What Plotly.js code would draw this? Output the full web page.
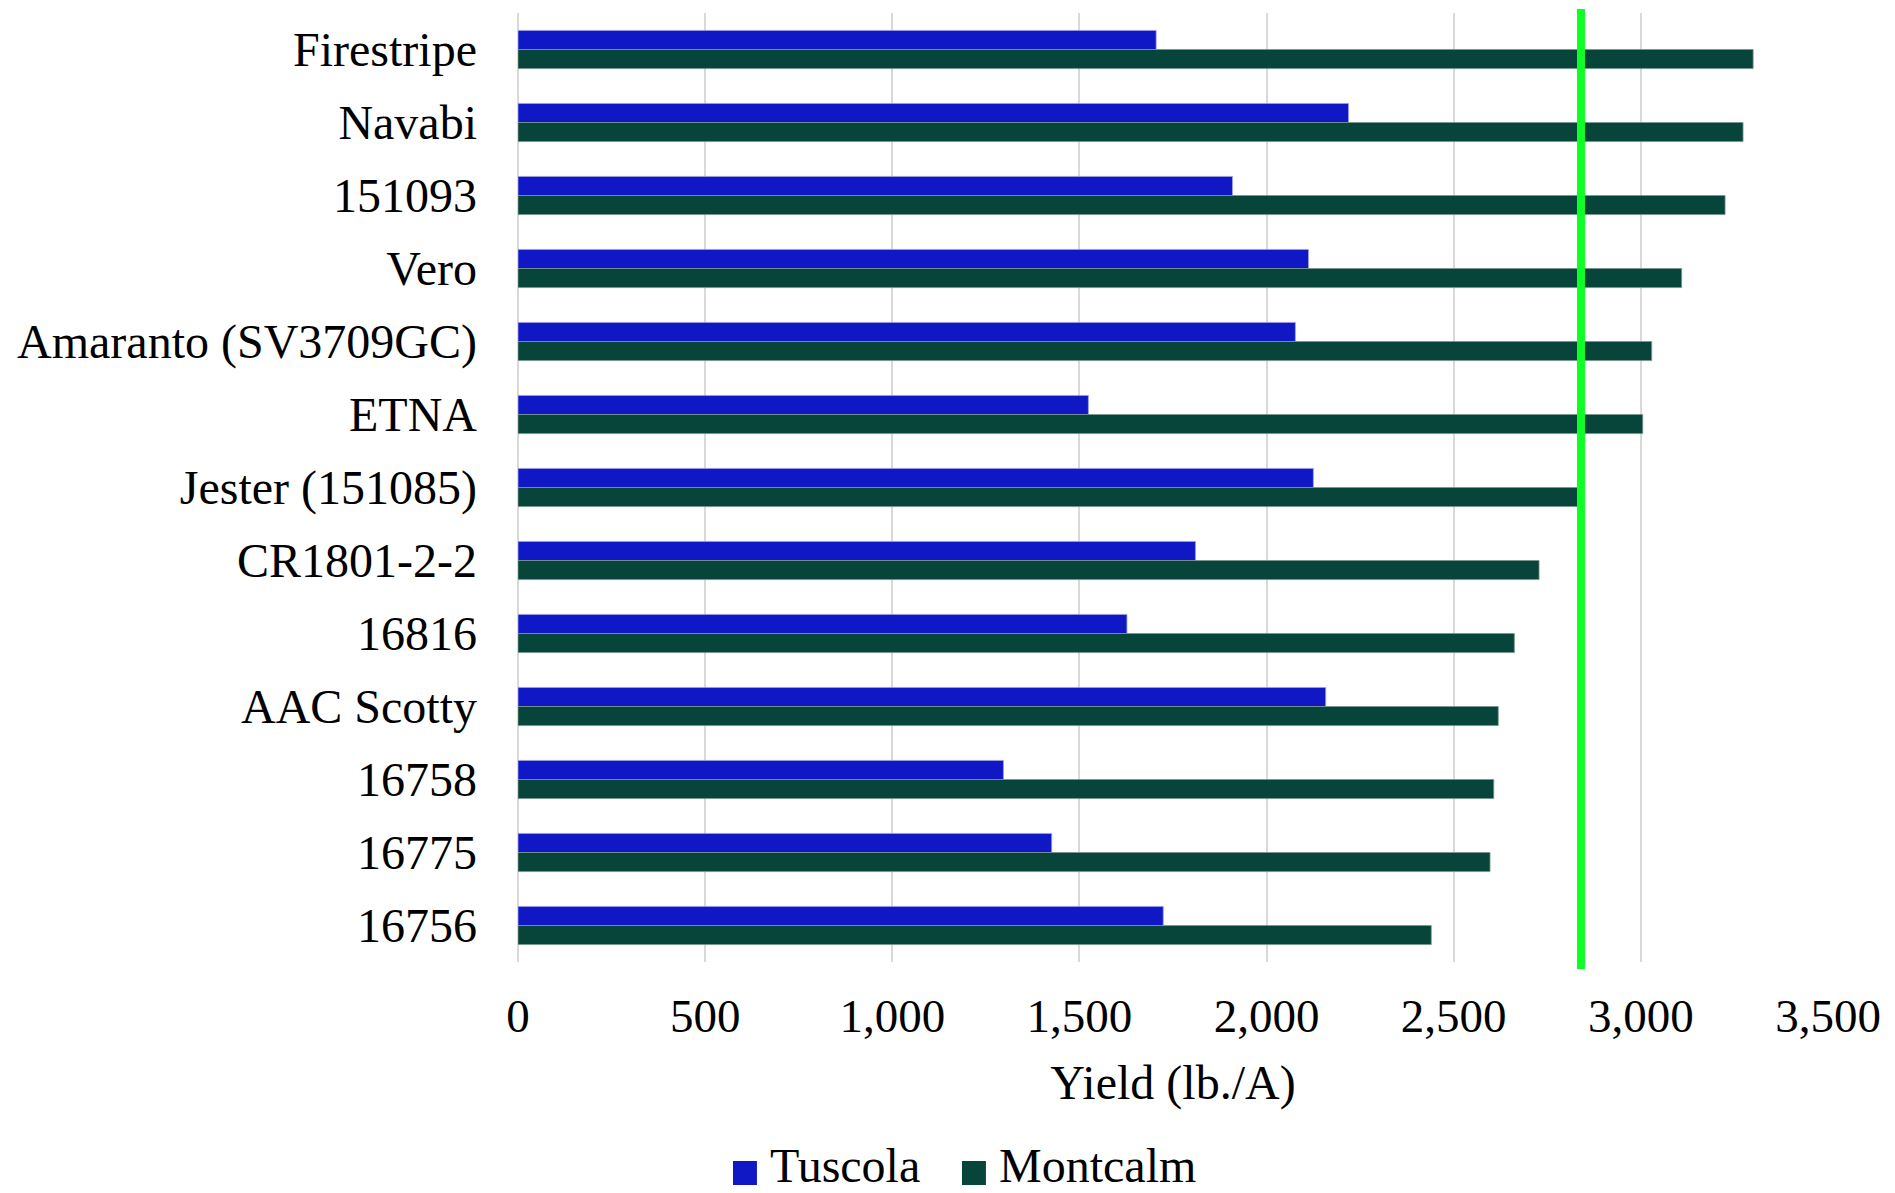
<!DOCTYPE html>
<html>
<head>
<meta charset="utf-8">
<script src="https://cdn.plot.ly/plotly-3.0.1.min.js"></script>
<style>html,body{margin:0;padding:0;background:#fff;}#chart{width:1895px;height:1193px;}</style>
</head>
<body>
<div id="chart"></div>
<script>
const varieties = ["Firestripe","Navabi","151093","Vero","Amaranto (SV3709GC)","ETNA","Jester (151085)","CR1801-2-2","16816","AAC Scotty","16758","16775","16756"];
const tuscola = [1705,2219,1909,2112,2077,1524,2125,1810,1627,2158,1297,1426,1724];
const montcalm = [3300,3273,3225,3109,3029,3005,2831,2728,2662,2619,2607,2597,2440];
const referenceYield = 2840;
const xTicks = [0,500,1000,1500,2000,2500,3000,3500];
const seriesNames = ["Tuscola","Montcalm"];

const FONT = "Liberation Serif, Times New Roman, serif";
const C_T = "#1018C6";
const C_M = "#07443A";
const colors = [C_T, C_M];

const traces = [
  {type:"bar", orientation:"h", name:seriesNames[0], y:varieties, x:tuscola,
   marker:{color:C_T, line:{color:"rgba(160,160,230,0.8)", width:1}}, showlegend:false},
  {type:"bar", orientation:"h", name:seriesNames[1], y:varieties, x:montcalm,
   marker:{color:C_M, line:{color:"rgba(120,150,140,0.8)", width:1}}, showlegend:false}
];

// manual legend (larger square swatches than Plotly's legend allows)
const legX = [0.1641, 0.3389];   // swatch left edges (paper)
const swW = 0.0183;
const legShapes = legX.map((x,i)=>({type:"rect", xref:"paper", yref:"paper",
  x0:x, x1:x+swW, y0:-0.2350, y1:-0.2097, fillcolor:colors[i], line:{width:0}}));
const legAnn = legX.map((x,i)=>({xref:"paper", yref:"paper", x:x+swW+0.0085, y:-0.2139,
  xanchor:"left", yanchor:"middle", height:48, showarrow:false, text:seriesNames[i],
  font:{family:FONT, size:48, color:"#000"}}));

const layout = {
  width:1895, height:1193,
  margin:{l:518, r:67, t:13, b:231},
  paper_bgcolor:"#fff", plot_bgcolor:"#fff",
  font:{family:FONT, size:47, color:"#000"},
  barmode:"group", bargap:0.477, bargroupgap:0,
  showlegend:false,
  xaxis:{
    range:[0,3500], tickvals:xTicks, tickformat:",d",
    showgrid:true, gridcolor:"#d9d9d9", gridwidth:2,
    zeroline:true, zerolinecolor:"#d9d9d9", zerolinewidth:2,
    showline:false, ticks:"", ticklabelstandoff:22,
    tickfont:{family:FONT, size:47, color:"#000"},
    title:{text:"Yield (lb./A)", font:{family:FONT, size:48, color:"#000"}, standoff:24}
  },
  yaxis:{
    type:"category", autorange:"reversed",
    showgrid:false, zeroline:false, showline:false, ticks:"",
    ticklabelstandoff:40,
    tickfont:{family:FONT, size:48, color:"#000"}
  },
  shapes:[{type:"line", xref:"x", yref:"paper", x0:referenceYield, x1:referenceYield, y0:-0.0074, y1:1.0042,
           line:{color:"#0EFF26", width:8}}].concat(legShapes),
  annotations:legAnn
};

Plotly.newPlot("chart", traces, layout, {displayModeBar:false, staticPlot:true});
</script>
</body>
</html>
